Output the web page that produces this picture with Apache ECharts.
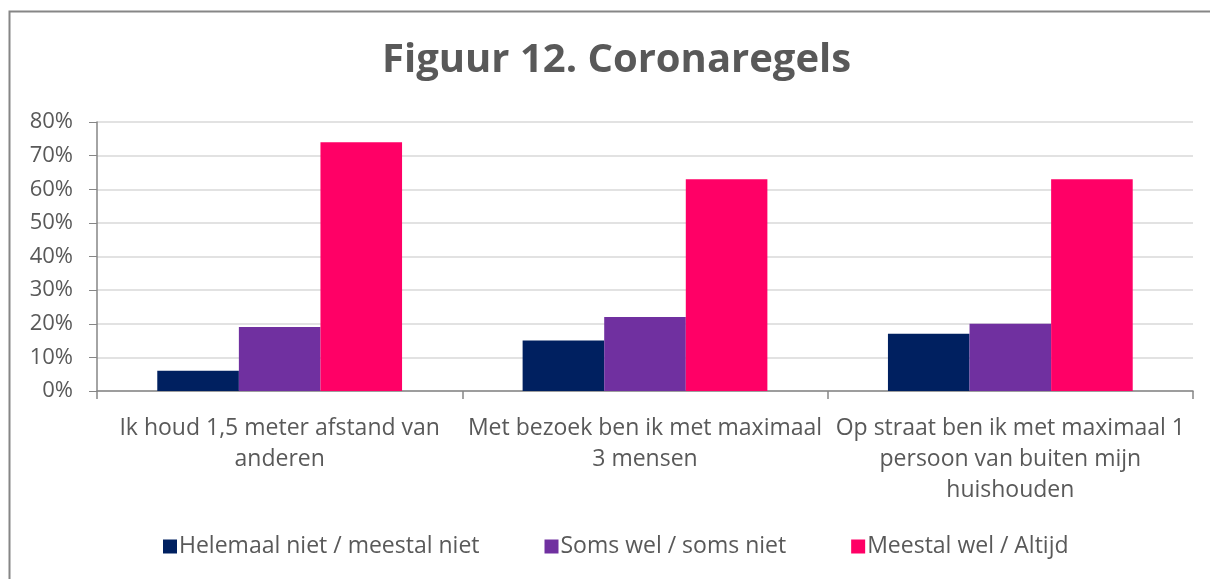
<!DOCTYPE html>
<html><head><meta charset="utf-8">
<script src="https://cdn.jsdelivr.net/npm/echarts@6/dist/echarts.min.js"></script>
<style>html,body{margin:0;padding:0;background:#fff}#c{width:1210px;height:579px}</style>
</head><body><div id="c"></div>
<script>
const categories = ['Ik houd 1,5 meter afstand van\nanderen', 'Met bezoek ben ik met maximaal\n3 mensen', 'Op straat ben ik met maximaal 1\npersoon van buiten mijn\nhuishouden'];
const seriesNames = ['Helemaal niet / meestal niet', 'Soms wel / soms niet', 'Meestal wel / Altijd'];
const helemaalNiet = [6, 15, 17];
const somsWel = [19, 22, 20];
const meestalWel = [74, 63, 63];
const yTicks = [0, 10, 20, 30, 40, 50, 60, 70, 80];
const colors = ['#002060', '#7030A0', '#FF0066'];
const FONT = "'Open Sans', sans-serif";
const chart = echarts.init(document.getElementById('c'));
const values = [helemaalNiet, somsWel, meestalWel];
chart.setOption({
  animation: false,
  textStyle: { fontFamily: FONT },
  title: { text: 'Figuur 12. Coronaregels', left: 377, top: 36,
    textStyle: { fontFamily: FONT, fontSize: 40, fontWeight: 'bold', color: '#595959' } },
  graphic: [{ type: 'rect', shape: { x: 9.5, y: 11.5, width: 1230, height: 600 }, style: { fill: 'none', stroke: '#868686', lineWidth: 2 }, silent: true }],
  grid: { left: 97, right: 17, top: 122, bottom: 188, containLabel: false },
  legend: { bottom: 16, left: 158, itemWidth: 14, itemHeight: 14, itemGap: 65, icon: 'rect',
    textStyle: { fontSize: 23, color: '#595959', fontFamily: FONT, padding: [0, 0, 0, -3] },
    data: seriesNames },
  xAxis: { type: 'category', data: categories,
    axisLine: { lineStyle: { color: '#868686', width: 1.5 } },
    axisTick: { show: true, length: 8, alignWithLabel: false, lineStyle: { color: '#868686', width: 1.5 } },
    axisLabel: { fontSize: 23, color: '#595959', lineHeight: 31, margin: 22, interval: 0, fontFamily: FONT } },
  yAxis: { type: 'value', min: 0, max: 80, interval: 10,
    axisLine: { show: true, lineStyle: { color: '#868686', width: 1.5 } },
    axisTick: { show: true, inside: false, length: 8, lineStyle: { color: '#868686' } },
    splitLine: { lineStyle: { color: '#D9D9D9', width: 1.5 } },
    axisLabel: { fontSize: 22, color: '#595959', margin: 24, fontFamily: FONT,
      formatter: v => yTicks.includes(v) ? v + '%' : '' } },
  series: seriesNames.map((n, i) => ({
    name: n, type: 'bar', data: values[i], barGap: '0%', barCategoryGap: '33%',
    itemStyle: { color: colors[i] }
  }))
});
</script></body></html>
